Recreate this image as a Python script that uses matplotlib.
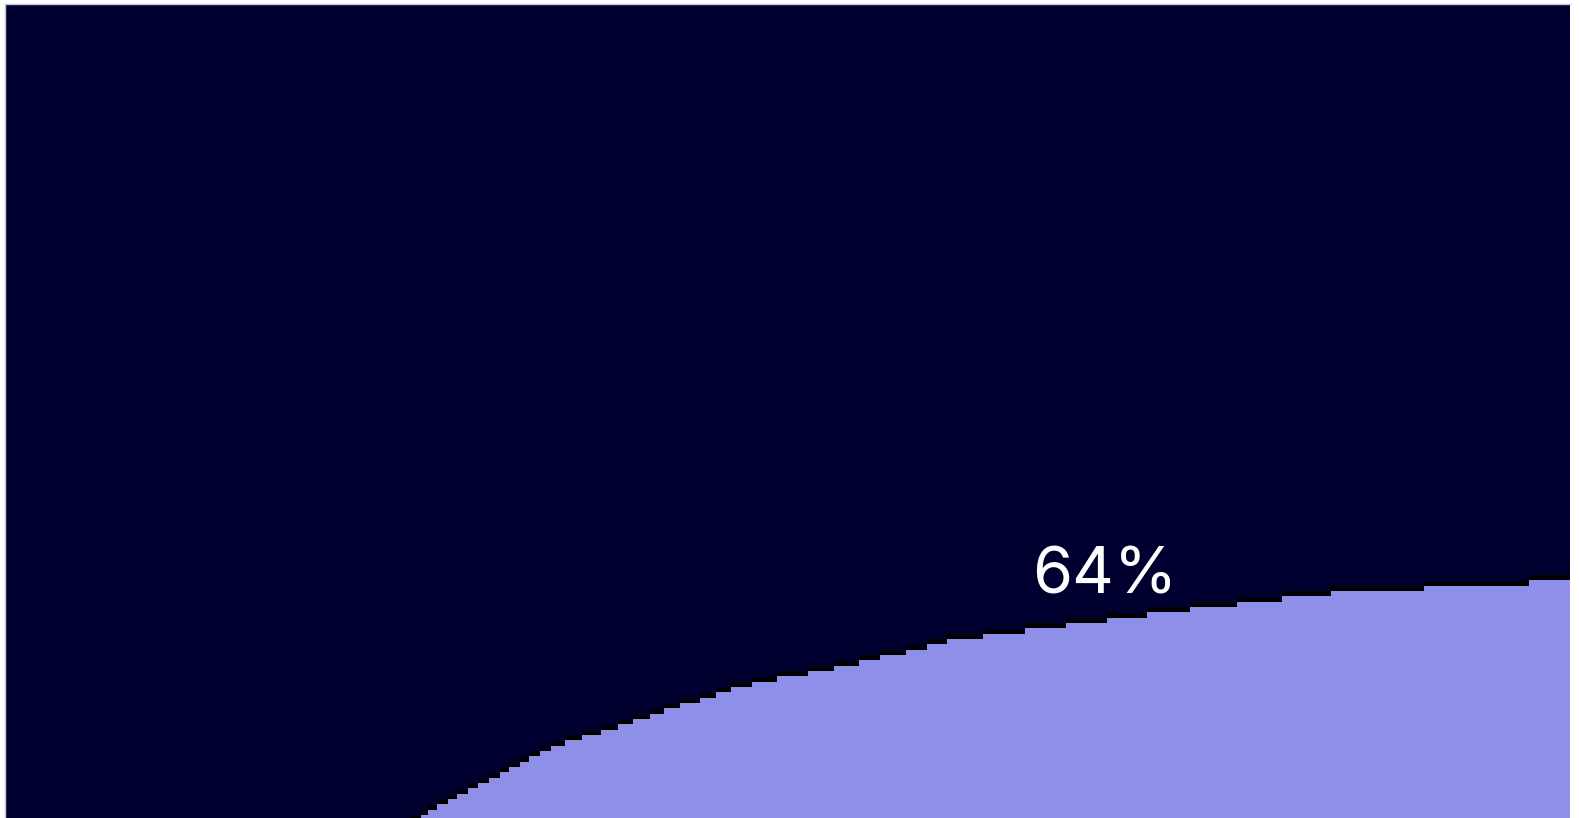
import matplotlib.pyplot as plt

# step left edges (x, 0-100 scale) and cumulative share (%) for each step
step_x = [25.9, 26.6, 27.0, 27.6, 28.3, 28.9, 29.6, 30.2, 30.9, 31.6,
          32.2, 32.9, 33.5, 34.2, 34.9, 35.8, 36.9, 38.1, 39.2, 40.1,
          41.2, 42.1, 43.1, 44.4, 45.4, 46.4, 47.7, 49.3, 51.3, 53.0,
          54.6, 55.9, 57.6, 58.9, 60.2, 62.5, 65.2, 67.8, 70.4, 73.0,
          75.7, 78.7, 81.6, 84.7, 90.7, 97.4, 100.0]
share = [49.00, 49.33, 49.67, 50.00, 50.33, 50.67, 51.00, 51.33, 51.67, 52.00,
         52.33, 52.67, 53.00, 53.33, 53.67, 54.00, 54.33, 54.67, 55.00, 55.33,
         55.67, 56.00, 56.33, 56.67, 57.00, 57.33, 57.67, 58.00, 58.33, 58.67,
         59.00, 59.33, 59.67, 60.00, 60.33, 60.67, 61.00, 61.33, 61.67, 62.00,
         62.33, 62.67, 63.00, 63.33, 63.67, 64.00, 64.00]
label = "64%"

navy = "#000030"
lilac = "#8E8FE9"

fig = plt.figure(figsize=(15.79, 8.18), dpi=100)
ax = fig.add_axes([5 / 1579, 0, 1565 / 1579, 814 / 818])
ax.set_facecolor(navy)

ymin, ymax = 49.15, 100
ax.set_xlim(0, 100)
ax.set_ylim(ymin, ymax)

# filled step area and a thin black edge on top of each step
ax.fill_between(step_x, ymin, share, step="post", color=lilac, linewidth=0)
band = 5 / 16
ax.fill_between(step_x, share, [v + band for v in share], step="post",
                color="black", linewidth=0)

ax.text(70.25, 63.2, label, color="white", fontsize=46.5, ha="center",
        va="baseline", family=["Inter", "DejaVu Sans"])

ax.set_xticks([])
ax.set_yticks([])
for side in ["right", "bottom"]:
    ax.spines[side].set_visible(False)
for side in ["top", "left"]:
    ax.spines[side].set_color("#c8c8d4")
    ax.spines[side].set_linewidth(1)

fig.savefig("out.png", dpi=100)
